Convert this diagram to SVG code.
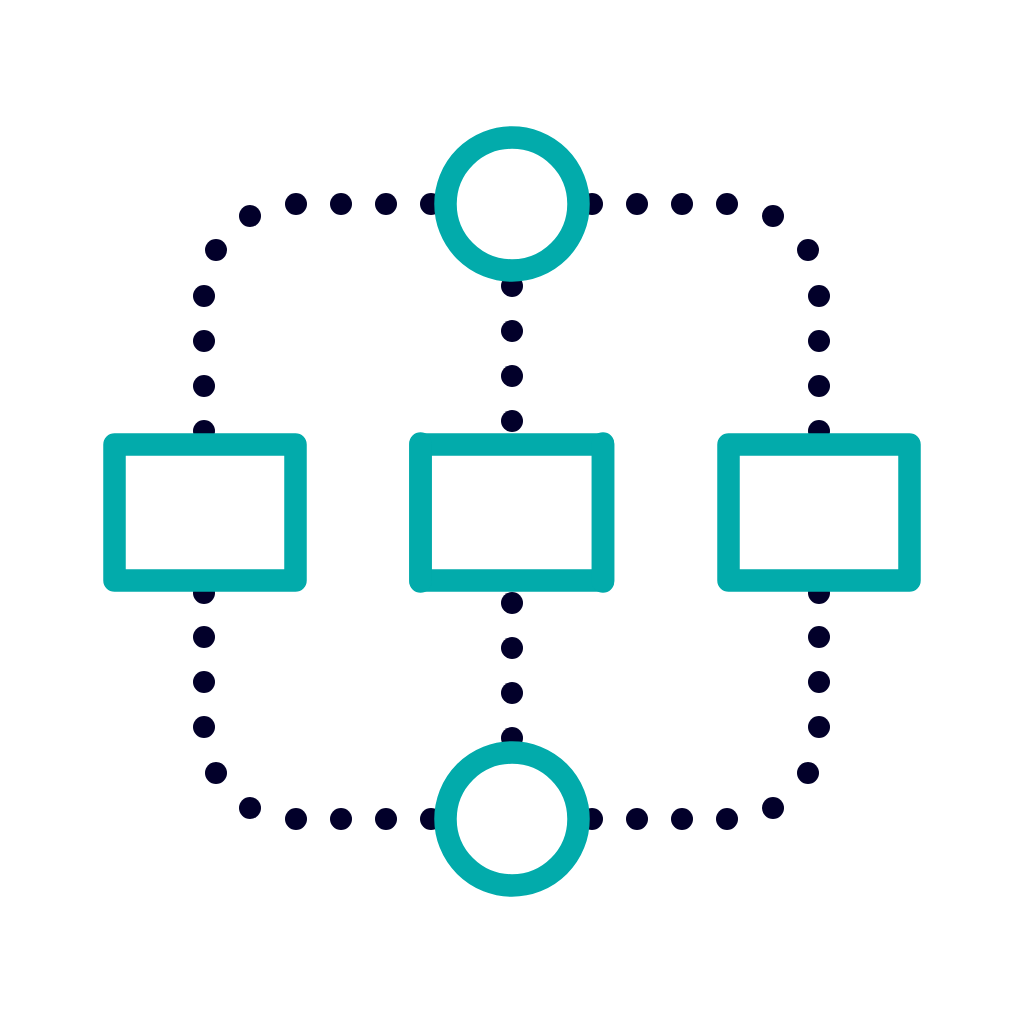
<svg xmlns="http://www.w3.org/2000/svg" width="1024" height="1024" viewBox="0 0 1024 1024">
<style>
.d{fill:#02002a}
.n{fill:none;stroke:#02abab;stroke-width:22.5;stroke-linejoin:round;stroke-linecap:round}
</style>
<rect width="1024" height="1024" fill="#fff"/>
<g id="connectors">
<g class="d">
<circle cx="296" cy="204" r="11"/><circle cx="341" cy="204" r="11"/><circle cx="386" cy="204" r="11"/><circle cx="431" cy="204" r="11"/>
<circle cx="592" cy="204" r="11"/><circle cx="637" cy="204" r="11"/><circle cx="682" cy="204" r="11"/><circle cx="727" cy="204" r="11"/>
<circle cx="296" cy="819" r="11"/><circle cx="341" cy="819" r="11"/><circle cx="386" cy="819" r="11"/><circle cx="431" cy="819" r="11"/>
<circle cx="592" cy="819" r="11"/><circle cx="637" cy="819" r="11"/><circle cx="682" cy="819" r="11"/><circle cx="727" cy="819" r="11"/>
<circle cx="250" cy="216" r="11"/><circle cx="216" cy="250" r="11"/>
<circle cx="773" cy="216" r="11"/><circle cx="808" cy="250" r="11"/>
<circle cx="216" cy="773" r="11"/><circle cx="250" cy="808" r="11"/>
<circle cx="808" cy="773" r="11"/><circle cx="773" cy="808" r="11"/>
<circle cx="204" cy="296" r="11"/><circle cx="204" cy="341" r="11"/><circle cx="204" cy="386" r="11"/><circle cx="204" cy="431" r="11"/>
<circle cx="204" cy="593" r="11"/><circle cx="204" cy="637" r="11"/><circle cx="204" cy="682" r="11"/><circle cx="204" cy="727" r="11"/>
<circle cx="819" cy="296" r="11"/><circle cx="819" cy="341" r="11"/><circle cx="819" cy="386" r="11"/><circle cx="819" cy="431" r="11"/>
<circle cx="819" cy="593" r="11"/><circle cx="819" cy="637" r="11"/><circle cx="819" cy="682" r="11"/><circle cx="819" cy="727" r="11"/>
<circle cx="512" cy="286" r="11"/><circle cx="512" cy="331" r="11"/><circle cx="512" cy="376" r="11"/><circle cx="512" cy="421" r="11"/>
<circle cx="512" cy="603" r="11"/><circle cx="512" cy="648" r="11"/><circle cx="512" cy="693" r="11"/><circle cx="512" cy="738" r="11"/>
</g>
</g>
<g id="node-top"><circle class="n" cx="512" cy="204" r="66.5"/></g>
<g id="node-bottom"><circle class="n" cx="512" cy="819" r="66.5"/></g>
<g id="node-left"><rect class="n" x="114.5" y="444.5" width="181" height="136"/></g>
<g id="node-center">
<rect class="n" x="420.5" y="444.5" width="182.5" height="136"/>
<path class="n" d="M420.5 443.5V581.5M603 443.5V581.5"/>
</g>
<g id="node-right"><rect class="n" x="728.5" y="444.5" width="181" height="136"/></g>
</svg>
